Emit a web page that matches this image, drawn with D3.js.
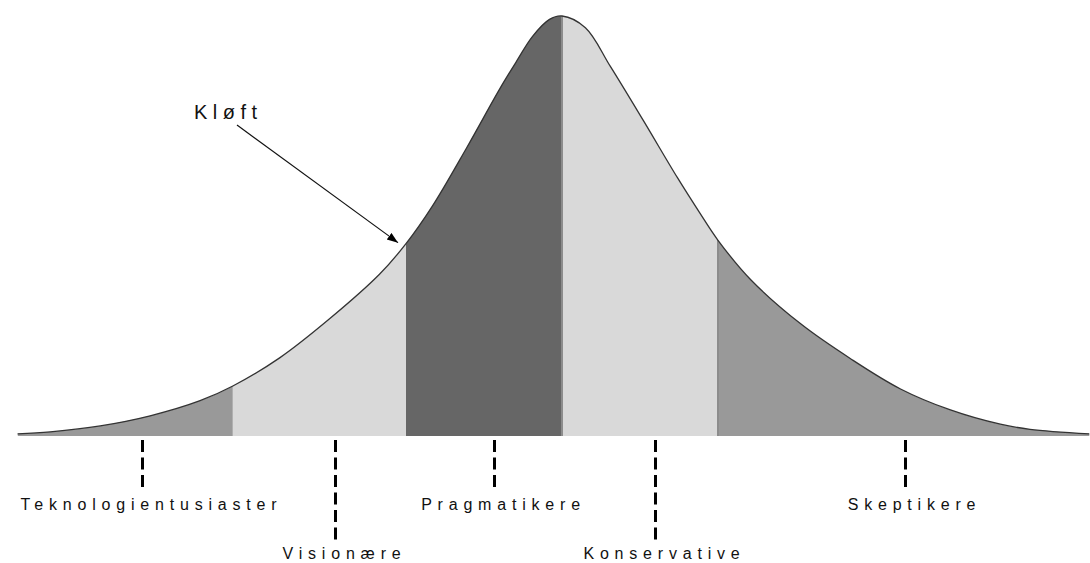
<!DOCTYPE html>
<html lang="no">
<head>
<meta charset="UTF-8">
<title>Kløft</title>
<style>
    body { margin: 0; background: #fff; }
    svg { display: block; }
    text { font-family: 'Liberation Sans', Arial, sans-serif; fill: #111; }
</style>
</head>
<body>
<svg width="1090" height="563"></svg>
<script src="https://d3js.org/d3.v7.min.js"></script>
<script>
// curve: position in sd units, relative height (peak = 1)
const curveX = [-3.49, -3.28, -2.96, -2.64, -2.32, -2.11, -1.81, -1.49, -1.17, -1.0, -0.83, -0.61, -0.40, -0.29, -0.19, -0.08, 0,
                 0.15, 0.31, 0.52, 0.74, 0.88, 1.0, 1.21, 1.53, 1.85, 2.17, 2.49, 2.81, 3.0, 3.38];
const curveY = [0.005, 0.010, 0.024, 0.048, 0.084, 0.119, 0.186, 0.279, 0.385, 0.458, 0.548, 0.687, 0.826, 0.893, 0.951, 0.992, 1.0,
                0.972, 0.880, 0.752, 0.615, 0.533, 0.466, 0.372, 0.267, 0.184, 0.112, 0.062, 0.028, 0.016, 0.005];

// segment edges (sd units)
const segEdges = [-3.49, -2.11, -1.0, 0, 1.0, 3.5];

// group markers and names
const groups = ['Teknologientusiaster', 'Visionære', 'Pragmatikere', 'Konservative', 'Skeptikere'];
const groupX = [-2.69, -1.455, -0.436, 0.596, 2.2];

const chasmLabel = 'Kløft';
const chasmAt = -1.0;

const segFill = ['#999999', '#d9d9d9', '#666666', '#d9d9d9', '#999999'];

const width = 1090, height = 563;
const svg = d3.select('svg');

const x = d3.scaleLinear().domain([-3.5, 3.5]).range([16, 1108]);
const y = d3.scaleLinear().domain([0, 1]).range([436, 16]);

const pts = curveX.map((v, i) => [v, curveY[i]]);
const smooth = d3.curveCatmullRom.alpha(0.5);

const area = d3.area()
    .x(d => x(d[0]))
    .y0(y(0))
    .y1(d => y(d[1]))
    .curve(smooth);

const line = d3.line()
    .x(d => x(d[0]))
    .y(d => y(d[1]))
    .curve(smooth);

const defs = svg.append('defs');
defs.append('clipPath').attr('id', 'bell')
    .append('path').attr('d', area(pts));

defs.append('marker')
    .attr('id', 'head')
    .attr('markerUnits', 'userSpaceOnUse')
    .attr('markerWidth', 12).attr('markerHeight', 10)
    .attr('refX', 11).attr('refY', 4)
    .attr('orient', 'auto')
  .append('path')
    .attr('d', 'M0,0 L11,4 L0,8 Z')
    .attr('fill', '#000');

// coloured segments under the curve
const segs = svg.append('g').attr('clip-path', 'url(#bell)');
segs.selectAll('rect')
    .data(segFill)
    .join('rect')
    .attr('x', (d, i) => x(segEdges[i]))
    .attr('width', (d, i) => x(segEdges[i + 1]) - x(segEdges[i]))
    .attr('y', 0)
    .attr('height', y(0))
    .attr('fill', d => d);

// faint seams at two of the edges
segs.selectAll('line')
    .data([0, 1.0])
    .join('line')
    .attr('x1', d => x(d)).attr('x2', d => x(d))
    .attr('y1', 0).attr('y2', y(0))
    .attr('stroke', '#8c8c8c')
    .attr('stroke-width', 2);

// outline
svg.append('path')
    .attr('d', line(pts))
    .attr('fill', 'none')
    .attr('stroke', '#333')
    .attr('stroke-width', 1.3);

// dashed markers with labels
const g = svg.append('g');
groups.forEach((name, i) => {
    const long = i % 2 === 1;
    const gx = Math.round(x(groupX[i])) + 0.5;
    g.append('line')
        .attr('x1', gx).attr('x2', gx)
        .attr('y1', 440).attr('y2', long ? 540 : 487)
        .attr('stroke', '#000')
        .attr('stroke-width', 3)
        .attr('stroke-dasharray', '12,5.5');
    g.append('text')
        .attr('x', gx + 9)
        .attr('y', long ? 559 : 510)
        .attr('text-anchor', 'middle')
        .style('font-size', '16px')
        .style('letter-spacing', '5.8px')
        .text(name);
});

// chasm annotation
const tipX = x(chasmAt) - 8;
const hAt = curveY[curveX.indexOf(chasmAt)];
const tipY = y(hAt) - 1;

svg.append('text')
    .attr('x', 194)
    .attr('y', 119)
    .style('font-size', '20px')
    .style('letter-spacing', '5.5px')
    .text(chasmLabel);

svg.append('line')
    .attr('x1', 237).attr('y1', 125)
    .attr('x2', tipX).attr('y2', tipY)
    .attr('stroke', '#111')
    .attr('stroke-width', 1.2)
    .attr('marker-end', 'url(#head)');
</script>
</body>
</html>
